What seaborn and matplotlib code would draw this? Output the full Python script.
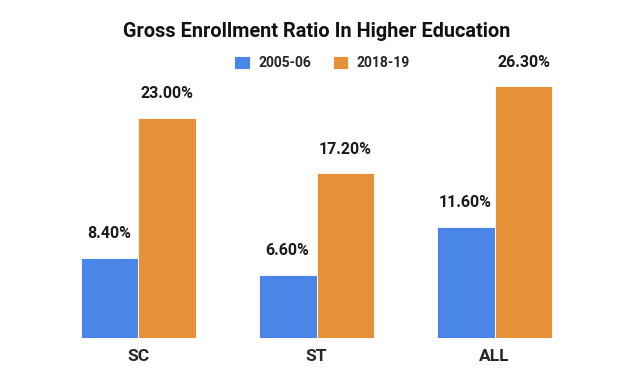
import pandas as pd
import matplotlib.pyplot as plt
import seaborn as sns

groups = ['SC', 'ST', 'ALL']
years = ['2005-06', '2018-19']
ger_2005 = [8.4, 6.6, 11.6]
ger_2018 = [23.0, 17.2, 26.3]

df = pd.DataFrame({
    'group': groups * 2,
    'year': [years[0]] * 3 + [years[1]] * 3,
    'ger': ger_2005 + ger_2018,
})

sns.set_style('white')
plt.rcParams['font.family'] = ['Roboto', 'DejaVu Sans']
plt.rcParams['font.weight'] = 'bold'

fig = plt.figure(figsize=(6.33, 3.88), dpi=100)
ax = fig.add_axes([0.078, 0.129, 0.844, 0.740])

sns.barplot(data=df, x='group', y='ger', hue='year', order=groups, hue_order=years,
            palette=['#4a86e8', '#e69138'], saturation=1, width=0.65, edgecolor='white',
            linewidth=0.6, ax=ax, legend=True)

for cont in ax.containers:
    ax.bar_label(cont, labels=['%.2f%%' % v for v in cont.datavalues],
                 padding=12, fontsize=11.5, fontweight='bold', color='#1a1a1a')

ax.set_xlim(-0.5, 2.5)
ax.set_ylim(0, 30)
sns.despine(ax=ax, left=True, bottom=True)
ax.set_yticks([])
ax.set_xlabel('')
ax.set_ylabel('')
ax.tick_params(axis='x', length=0, pad=8, labelsize=12.5)
for t in ax.get_xticklabels():
    t.set_fontweight('bold')

h, l = ax.get_legend_handles_labels()
ax.legend_.remove()
fig.legend(h, l, loc='center', bbox_to_anchor=(0.509, 0.838), ncol=2, frameon=False,
           prop={'size': 10, 'weight': 'bold'}, handlelength=1.1, handleheight=1.1,
           handletextpad=0.6, columnspacing=1.6)

fig.text(0.5, 0.918, 'Gross Enrollment Ratio In Higher Education', ha='center', va='center',
         fontsize=14.3, fontweight='bold', color='#111111')

fig.savefig('out.png', dpi=100)
